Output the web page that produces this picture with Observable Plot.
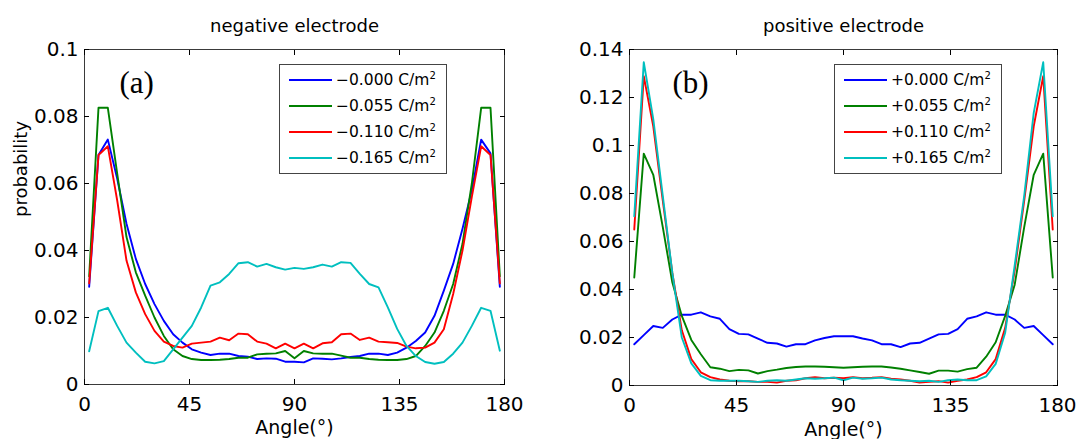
<!DOCTYPE html>
<html><head><meta charset="utf-8">
<script src="https://cdn.jsdelivr.net/npm/d3@7"></script>
<script src="https://cdn.jsdelivr.net/npm/@observablehq/plot@0.6"></script>
<style>
body{margin:0;background:#fff;}
#wrap{position:relative;width:1077px;height:439px;font-family:"DejaVu Sans",sans-serif;color:#000;}
.panel{position:absolute;top:0;}
.legend{position:absolute;border:1px solid #444;background:#fff;box-sizing:border-box;}
.row{position:absolute;left:0;height:20px;display:flex;align-items:center;}
.sw{width:43px;height:0;border-top:2px solid;margin-left:9px;margin-right:4px;}
.lab{font-size:15.5px;white-space:nowrap;}
.lab sup{font-size:10px;vertical-align:6px;line-height:0;}
</style></head><body><div id="wrap"></div>
<script>
const angles = [2,6,10,14,18,22,26,30,34,38,42,46,50,54,58,62,66,70,74,78,82,86,90,94,98,102,106,110,114,118,122,126,130,134,138,142,146,150,154,158,162,166,170,174,178];

const neg000 = [0.0292,0.0685,0.0731,0.0615,0.0480,0.0375,0.0300,0.0240,0.0190,0.0150,0.0125,0.0105,0.0095,0.0088,0.0092,0.0092,0.0085,0.0083,0.0076,0.0078,0.0077,0.0068,0.0068,0.0066,0.0078,0.0077,0.0075,0.0078,0.0082,0.0085,0.0092,0.0092,0.0088,0.0095,0.0110,0.0130,0.0155,0.0205,0.0280,0.0360,0.0465,0.0580,0.0731,0.0690,0.0292];
const neg055 = [0.0323,0.0826,0.0826,0.0630,0.0440,0.0335,0.0265,0.0200,0.0145,0.0105,0.0085,0.0076,0.0073,0.0073,0.0074,0.0076,0.0080,0.0080,0.0090,0.0092,0.0093,0.0100,0.0078,0.0100,0.0093,0.0092,0.0092,0.0086,0.0080,0.0080,0.0076,0.0074,0.0073,0.0073,0.0076,0.0085,0.0115,0.0155,0.0220,0.0300,0.0420,0.0600,0.0826,0.0826,0.0323];
const neg110 = [0.0302,0.0685,0.0711,0.0550,0.0370,0.0275,0.0210,0.0160,0.0128,0.0115,0.0110,0.0122,0.0125,0.0128,0.0140,0.0132,0.0152,0.0150,0.0128,0.0122,0.0108,0.0122,0.0108,0.0122,0.0108,0.0123,0.0126,0.0150,0.0152,0.0133,0.0140,0.0128,0.0126,0.0124,0.0113,0.0108,0.0110,0.0125,0.0165,0.0270,0.0400,0.0560,0.0711,0.0685,0.0302];
const neg165 = [0.0099,0.0219,0.0229,0.0175,0.0125,0.0095,0.0068,0.0063,0.0070,0.0105,0.0140,0.0175,0.0230,0.0295,0.0305,0.0330,0.0362,0.0365,0.0352,0.0360,0.0350,0.0343,0.0348,0.0345,0.0350,0.0358,0.0352,0.0365,0.0363,0.0330,0.0300,0.0290,0.0230,0.0166,0.0115,0.0085,0.0067,0.0062,0.0067,0.0092,0.0125,0.0175,0.0229,0.0220,0.0101];

const pos000 = [0.0172,0.0210,0.0248,0.0240,0.0275,0.0295,0.0295,0.0305,0.0288,0.0278,0.0235,0.0215,0.0213,0.0195,0.0178,0.0175,0.0162,0.0172,0.0172,0.0188,0.0198,0.0205,0.0205,0.0205,0.0196,0.0188,0.0172,0.0172,0.0160,0.0175,0.0178,0.0195,0.0213,0.0215,0.0235,0.0278,0.0288,0.0305,0.0295,0.0295,0.0275,0.0240,0.0248,0.0210,0.0172];
const pos055 = [0.0450,0.0966,0.0878,0.0660,0.0430,0.0290,0.0190,0.0130,0.0076,0.0070,0.0060,0.0065,0.0063,0.0050,0.0060,0.0066,0.0073,0.0077,0.0079,0.0079,0.0078,0.0076,0.0074,0.0076,0.0078,0.0079,0.0079,0.0075,0.0070,0.0063,0.0056,0.0049,0.0062,0.0062,0.0058,0.0068,0.0074,0.0120,0.0180,0.0290,0.0420,0.0660,0.0878,0.0966,0.0450];
const pos110 = [0.0650,0.1289,0.1080,0.0770,0.0470,0.0230,0.0110,0.0055,0.0035,0.0025,0.0020,0.0018,0.0018,0.0015,0.0015,0.0012,0.0020,0.0022,0.0030,0.0035,0.0030,0.0032,0.0030,0.0035,0.0030,0.0032,0.0035,0.0028,0.0025,0.0020,0.0012,0.0015,0.0018,0.0012,0.0020,0.0025,0.0035,0.0055,0.0110,0.0240,0.0480,0.0770,0.1080,0.1289,0.0650];
const pos165 = [0.0705,0.1347,0.1110,0.0790,0.0470,0.0200,0.0092,0.0040,0.0022,0.0020,0.0020,0.0020,0.0018,0.0015,0.0020,0.0022,0.0020,0.0025,0.0030,0.0028,0.0030,0.0033,0.0022,0.0033,0.0028,0.0030,0.0033,0.0025,0.0022,0.0020,0.0018,0.0020,0.0015,0.0022,0.0025,0.0022,0.0022,0.0038,0.0090,0.0220,0.0500,0.0790,0.1136,0.1347,0.0705];

const negLabels = ["\u22120.000", "\u22120.055", "\u22120.110", "\u22120.165"];
const posLabels = ["+0.000", "+0.055", "+0.110", "+0.165"];
const unitLabel = "C/m";
const colors = ["#0000ff", "#008000", "#ff0000", "#00bfbf"];
const xTicks = [0, 45, 90, 135, 180];
const negYTicks = [0, 0.02, 0.04, 0.06, 0.08, 0.1];
const posYTicks = [0, 0.02, 0.04, 0.06, 0.08, 0.1, 0.12, 0.14];
const titles = ["negative electrode", "positive electrode"];
const panelTags = ["(a)", "(b)"];
const xLabel = "Angle(\u00b0)";
const yLabel = "probability";

const fmtY = d => String(+d.toFixed(2));
const tidy = vals => angles.map((a, i) => ({angle: a, value: vals[i]}));

function panel({series, yTicks, title, tag, showYLabel, width, mL, mR, mB, tagDx}) {
  const marks = series.map((vals, k) =>
    Plot.line(tidy(vals), {x: "angle", y: "value", stroke: colors[k], strokeWidth: 1.9}));
  marks.push(
    Plot.frame({stroke: "#3a3a3a"}),
    Plot.axisX({ticks: xTicks, tickSize: -5, tickPadding: 17, fontSize: 20, label: null, tickFormat: d => String(d)}),
    Plot.axisX({anchor: "top", ticks: xTicks, tickSize: -5, tickFormat: () => "", label: null}),
    Plot.axisY({ticks: yTicks, tickSize: -5, tickPadding: 11, fontSize: 20, label: null, tickFormat: fmtY}),
    Plot.axisY({anchor: "right", ticks: yTicks, tickSize: -5, tickFormat: () => "", label: null}),
    Plot.text([title], {text: d => d, frameAnchor: "top", dy: -18, lineAnchor: "bottom", fontSize: 18}),
    Plot.text([xLabel], {text: d => d, frameAnchor: "bottom", dy: 49 - (mB - 55), lineAnchor: "bottom", fontSize: 19}),
    Plot.text([tag], {text: d => d, frameAnchor: "top-left", dx: tagDx, dy: 43, lineAnchor: "bottom", textAnchor: "start", fontSize: 31, fontFamily: "Liberation Serif"})
  );
  if (showYLabel) marks.push(
    Plot.text([yLabel], {text: d => d, frameAnchor: "left", dx: -63, rotate: -90, fontSize: 18}));
  return Plot.plot({
    width, height: 439,
    marginLeft: mL, marginRight: mR, marginTop: 49, marginBottom: mB,
    x: {domain: [0, 180]},
    y: {domain: [0, yTicks[yTicks.length - 1]]},
    style: {fontFamily: "DejaVu Sans", background: "transparent", color: "#000", overflow: "visible"},
    marks
  });
}

function legend(labels, left) {
  const box = document.createElement("div");
  box.className = "legend";
  Object.assign(box.style, {left: left + "px", top: "64px", width: "168px", height: "110px"});
  labels.forEach((lab, k) => {
    const row = document.createElement("div");
    row.className = "row";
    row.style.top = (5 + 26 * k) + "px";
    const sw = document.createElement("span");
    sw.className = "sw";
    sw.style.borderTopColor = colors[k];
    const tx = document.createElement("span");
    tx.className = "lab";
    tx.innerHTML = lab + " " + unitLabel + "<sup>2</sup>";
    row.append(sw, tx);
    box.append(row);
  });
  return box;
}

const wrap = document.getElementById("wrap");
const p1 = panel({series: [neg000, neg055, neg110, neg165], yTicks: negYTicks, title: titles[0], tag: panelTags[0], showYLabel: true, width: 540, mL: 84, mR: 36, mB: 55, tagDx: 35});
p1.classList.add("panel"); p1.style.left = "0px";
const p2 = panel({series: [pos000, pos055, pos110, pos165], yTicks: posYTicks, title: titles[1], tag: panelTags[1], showYLabel: false, width: 537, mL: 89, mR: 20, mB: 54, tagDx: 43});
p2.classList.add("panel"); p2.style.left = "540px";
wrap.append(p1, p2, legend(negLabels, 279), legend(posLabels, 834));
</script>
</body></html>
